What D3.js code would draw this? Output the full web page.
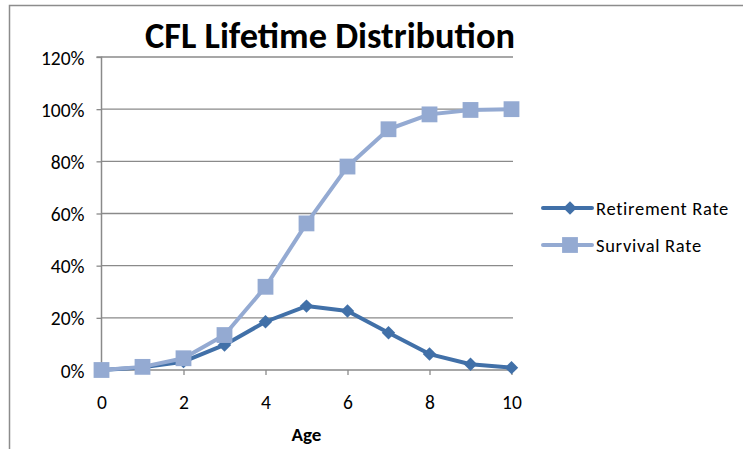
<!DOCTYPE html>
<html>
<head>
<meta charset="utf-8">
<script src="https://cdn.jsdelivr.net/npm/d3@7"></script>
<style>
  body { margin: 0; background: #fff; }
  svg { display: block; }
  text { font-family: Calibri, Carlito, Lato, sans-serif; fill: #000; }
</style>
</head>
<body>
<div class="container"></div>
<script>
// Frame
const width = 743;
const height = 449;

// Data
const ages = [0, 1, 2, 3, 4, 5, 6, 7, 8, 9, 10];
const retirement = [0, 0.01, 0.032, 0.096, 0.185, 0.245, 0.226, 0.143, 0.061, 0.022, 0.009];
const survival = [0, 0.012, 0.045, 0.134, 0.319, 0.562, 0.78, 0.923, 0.98, 0.997, 1.0];
const xTicks = [0, 2, 4, 6, 8, 10];
const yTicks = [0, 0.2, 0.4, 0.6, 0.8, 1.0, 1.2];
const seriesNames = ['Retirement Rate', 'Survival Rate'];

const color1 = '#4170a8';
const color2 = '#94aad2';
const gridColor = '#8a8a8a';
const labelFont = 'Calibri, Carlito, Lato, sans-serif';

const svg = d3.select('.container')
  .append('svg')
  .attr('width', width)
  .attr('height', height);

// chart border (runs off right and bottom)
svg.append('path')
  .attr('d', `M9.5,${height}V5.5H${width}`)
  .attr('fill', 'none')
  .attr('stroke', '#8c8c8c')
  .attr('stroke-width', 1.5);

const x = d3.scaleLinear().domain([0, 10]).range([101.5, 511.5]);
const y = d3.scaleLinear().domain([0, 1.2]).range([370, 57]);

// gridlines
svg.append('g')
  .selectAll('line')
  .data(yTicks.filter(d => d > 0))
  .join('line')
  .attr('x1', x(0))
  .attr('x2', 513)
  .attr('y1', d => y(d))
  .attr('y2', d => y(d))
  .attr('stroke', gridColor)
  .attr('stroke-width', 1.3);

// y axis
const yAxis = svg.append('g')
  .attr('transform', `translate(${x(0)},0)`)
  .call(d3.axisLeft(y).tickValues(yTicks).tickSize(5).tickPadding(12).tickFormat(d3.format('.0%')));
yAxis.select('.domain').attr('stroke', gridColor).attr('stroke-width', 1.5).attr('d', `M-5,${y(0)}H0V${y(1.2)}H-5`);
yAxis.selectAll('.tick line').attr('stroke', gridColor).attr('stroke-width', 1.3);
yAxis.selectAll('.tick text')
  .attr('font-size', 19.5)
  .attr('font-family', labelFont)
  .attr('dy', '0.36em');

// x axis
const xAxis = svg.append('g')
  .attr('transform', `translate(0,${y(0)})`)
  .call(d3.axisBottom(x).tickValues(xTicks).tickSize(5).tickPadding(20).tickFormat(d3.format('d')));
xAxis.select('.domain').attr('stroke', gridColor).attr('stroke-width', 1.5).attr('d', `M${x(0)},0H513`);
xAxis.selectAll('.tick line').attr('stroke', gridColor).attr('stroke-width', 1.3);
xAxis.selectAll('.tick text')
  .attr('font-size', 19.5)
  .attr('font-family', labelFont);

// axis title
svg.append('text')
  .attr('x', (x(0) + x(10)) / 2)
  .attr('y', 441)
  .attr('text-anchor', 'middle')
  .attr('font-size', 19)
  .attr('font-weight', 'bold')
  .text('Age');

// chart title, fitted to the original width
const title = svg.append('text')
  .attr('x', 330)
  .attr('y', 48)
  .attr('text-anchor', 'middle')
  .attr('font-size', 30)
  .attr('font-weight', 'bold')
  .text('CFL Lifetime Distribution');
const tw = title.node().getComputedTextLength();
title.attr('font-size', 30 * 370 / tw);

const line = d3.line().x((d, i) => x(ages[i])).y(d => y(d));
const diamond = d3.symbol().type(d3.symbolDiamond2).size(115);
const square = d3.symbol().type(d3.symbolSquare).size(250);

function drawSeries(values, color, symbol) {
  const g = svg.append('g');
  g.append('path')
    .datum(values)
    .attr('d', line)
    .attr('fill', 'none')
    .attr('stroke', color)
    .attr('stroke-width', 4)
    .attr('stroke-linejoin', 'round');
  g.selectAll('.marker')
    .data(values)
    .join('path')
    .attr('class', 'marker')
    .attr('transform', (d, i) => `translate(${x(ages[i])},${y(d)})`)
    .attr('d', symbol)
    .attr('fill', color);
}

drawSeries(retirement, color1, diamond);
drawSeries(survival, color2, square);

// legend
const legend = svg.append('g')
  .selectAll('g')
  .data(seriesNames)
  .join('g')
  .attr('transform', (d, i) => `translate(543,${208 + i * 37})`);
legend.append('line')
  .attr('x1', 0)
  .attr('x2', 49)
  .attr('stroke', (d, i) => i ? color2 : color1)
  .attr('stroke-width', 4)
  .attr('stroke-linecap', 'round');
legend.append('path')
  .attr('transform', 'translate(27,0)')
  .attr('d', (d, i) => i ? square() : diamond())
  .attr('fill', (d, i) => i ? color2 : color1);
legend.append('text')
  .attr('x', 53)
  .attr('dy', '0.36em')
  .attr('font-size', 18.5)
  .attr('letter-spacing', 0.7)
  .text(d => d);
</script>
</body>
</html>
